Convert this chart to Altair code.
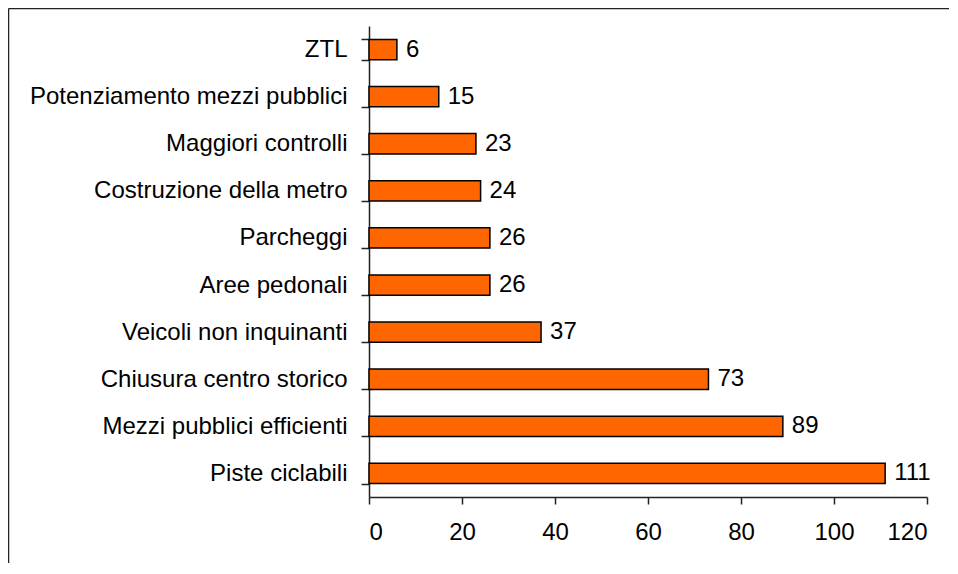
import altair as alt
import pandas as pd

categories = [
    "ZTL",
    "Potenziamento mezzi pubblici",
    "Maggiori controlli",
    "Costruzione della metro",
    "Parcheggi",
    "Aree pedonali",
    "Veicoli non inquinanti",
    "Chiusura centro storico",
    "Mezzi pubblici efficienti",
    "Piste ciclabili",
]
values = [6, 15, 23, 24, 26, 26, 37, 73, 89, 111]
x_ticks = [0, 20, 40, 60, 80, 100, 120]

df = pd.DataFrame({"categoria": categories, "valore": values})

W, H = 558, 471
PAD = {"left": 361, "top": 18, "right": 22, "bottom": 66}
FONT = "Liberation Sans"
FS = 24

y_enc = alt.Y(
    "categoria:N",
    sort=categories,
    title=None,
    scale=alt.Scale(paddingInner=0.57, paddingOuter=0.285),
    axis=alt.Axis(
        tickBand="extent",
        tickSize=8,
        tickColor="#222",
        tickWidth=1.5,
        domainColor="#222",
        domainWidth=1.5,
        labelFont=FONT,
        labelFontSize=FS,
        labelColor="#000",
        labelPadding=14,
        labelLimit=500,
    ),
)
x_enc = alt.X(
    "valore:Q",
    title=None,
    scale=alt.Scale(domain=[0, 120], nice=False),
    axis=alt.Axis(
        values=x_ticks,
        grid=False,
        tickSize=7,
        tickColor="#222",
        tickWidth=1.5,
        domainColor="#222",
        domainWidth=1.5,
        labelFont=FONT,
        labelFontSize=FS,
        labelColor="#000",
        labelPadding=16,
    ),
)

one = pd.DataFrame({"a": [0]})
frame_top = alt.Chart(one).mark_rule(stroke="#222", strokeWidth=1.5).encode(
    x=alt.value(-PAD["left"] + 0.5),
    x2=alt.value(W + PAD["right"]),
    y=alt.value(-PAD["top"] + 0.5),
)
frame_left = alt.Chart(one).mark_rule(stroke="#222", strokeWidth=1.5).encode(
    x=alt.value(-PAD["left"] + 0.5),
    y=alt.value(-PAD["top"] + 0.5),
    y2=alt.value(H + PAD["bottom"]),
)

bars = alt.Chart(df).mark_bar(
    color="#FF6600", stroke="#000", strokeWidth=1.5
).encode(x=x_enc, y=y_enc)

labels = alt.Chart(df).mark_text(
    align="left", baseline="middle", dx=9, font=FONT, fontSize=FS, color="#000"
).encode(
    x=alt.X("valore:Q"),
    y=alt.Y("categoria:N", sort=categories),
    text=alt.Text("valore:Q"),
)

chart = (
    alt.layer(frame_top, frame_left, bars, labels)
    .properties(
        width=W,
        height=H,
        autosize=alt.AutoSizeParams(type="none"),
        padding=PAD,
        background="#ffffff",
    )
    .configure_view(strokeOpacity=0, strokeWidth=0)
)

chart.save("out.html", embed_options={"renderer": "svg", "actions": False})
